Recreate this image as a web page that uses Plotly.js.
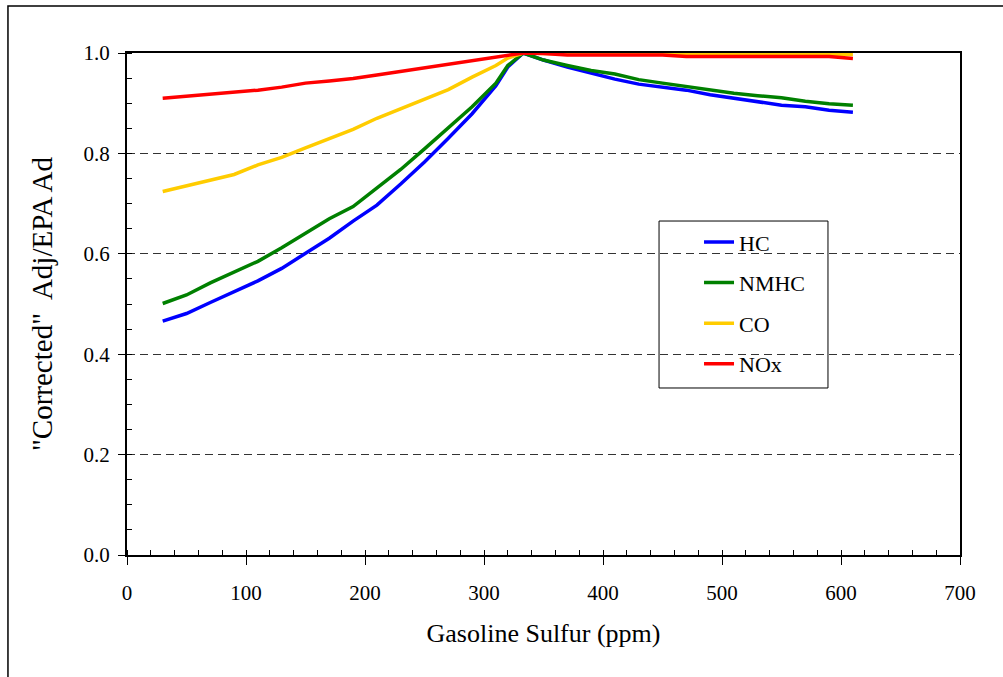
<!DOCTYPE html>
<html>
<head>
<meta charset="utf-8">
<script src="https://cdn.plot.ly/plotly-3.0.1.min.js"></script>
<style>
html,body{margin:0;padding:0;background:#fff;}
#chart{width:1003px;height:677px;}
</style>
</head>
<body>
<div id="chart"></div>
<script>
const sulfur = [30, 50, 70, 90, 110, 130, 150, 170, 190, 210, 230, 250, 270, 290, 310, 320, 333, 350, 370, 390, 410, 430, 450, 470, 490, 510, 530, 550, 570, 590, 610];
const hc   = [0.466, 0.481, 0.503, 0.524, 0.546, 0.571, 0.600, 0.631, 0.665, 0.697, 0.739, 0.783, 0.830, 0.879, 0.935, 0.972, 1.000, 0.986, 0.972, 0.960, 0.948, 0.938, 0.932, 0.926, 0.917, 0.910, 0.903, 0.896, 0.893, 0.886, 0.882];
const nmhc = [0.501, 0.518, 0.542, 0.563, 0.585, 0.612, 0.642, 0.670, 0.694, 0.730, 0.768, 0.809, 0.850, 0.893, 0.940, 0.975, 1.000, 0.986, 0.975, 0.965, 0.958, 0.947, 0.940, 0.933, 0.926, 0.920, 0.915, 0.911, 0.904, 0.899, 0.896];
const co   = [0.724, 0.735, 0.746, 0.758, 0.777, 0.792, 0.811, 0.829, 0.848, 0.870, 0.889, 0.907, 0.927, 0.952, 0.975, 0.990, 1.000, 0.999, 0.999, 0.998, 0.998, 0.998, 0.998, 0.998, 0.998, 0.998, 0.998, 0.997, 0.997, 0.997, 0.997];
const nox  = [0.910, 0.914, 0.918, 0.922, 0.926, 0.932, 0.940, 0.944, 0.949, 0.956, 0.963, 0.970, 0.977, 0.984, 0.992, 0.996, 1.000, 0.999, 0.996, 0.996, 0.996, 0.996, 0.996, 0.993, 0.993, 0.993, 0.993, 0.993, 0.993, 0.993, 0.989];
const seriesNames = ["HC", "NMHC", "CO", "NOx"];
const seriesColors = ["#0000ff", "#008000", "#ffcc00", "#ff0000"];
const seriesValues = [hc, nmhc, co, nox];
const xTitle = "Gasoline Sulfur (ppm)";
const yTitle = "\"Corrected\"  Adj/EPA Ad";

const FONT = "Liberation Serif";

const traces = seriesNames.map((n, i) => ({
  x: sulfur, y: seriesValues[i], name: n, type: "scatter", mode: "lines",
  legendgroup: n,
  line: {color: seriesColors[i], width: 3.5}
}));

const layout = {
  width: 1003, height: 677,
  margin: {l: 127, r: 43, t: 53, b: 122, pad: 0},
  paper_bgcolor: "#fff", plot_bgcolor: "#fff",
  font: {family: FONT, color: "#000", size: 21},
  showlegend: true,
  legend: {
    x: 0.6867, y: 0.665, xanchor: "left", yanchor: "top",
    bgcolor: "rgba(0,0,0,0)", borderwidth: 0,
    font: {family: FONT, size: 22, color: "#000"},
    traceorder: "grouped", tracegroupgap: 9
  },
  xaxis: {
    range: [0, 700], dtick: 100, tick0: 0,
    showline: true, linecolor: "#000", linewidth: 2, mirror: true,
    ticks: "outside", ticklen: 8, tickcolor: "#000", tickwidth: 1,
    ticklabelstandoff: 10,
    minor: {dtick: 20, ticks: "inside", ticklen: 5, tickcolor: "#000", showgrid: false},
    showgrid: false, zeroline: false,
    tickfont: {family: FONT, size: 21},
    title: {text: xTitle, font: {family: FONT, size: 26}, standoff: 20}
  },
  yaxis: {
    range: [0, 1.0], dtick: 0.2, tick0: 0, tickformat: ".1f",
    showline: true, linecolor: "#000", linewidth: 2, mirror: true,
    ticks: "outside", ticklen: 7, tickcolor: "#000", tickwidth: 1,
    ticklabelstandoff: 4,
    minor: {dtick: 0.05, ticks: "inside", ticklen: 5, tickcolor: "#000", showgrid: false},
    showgrid: true, gridcolor: "#333", gridwidth: 1, griddash: "8px,5px",
    zeroline: false,
    tickfont: {family: FONT, size: 21},
    title: {text: yTitle, font: {family: FONT, size: 29}, standoff: 22}
  },
  shapes: [{
    type: "rect", xref: "paper", yref: "paper",
    x0: -0.1429, x1: 1.3, y0: -0.5, y1: 1.0936,
    line: {color: "#000", width: 1.5}, fillcolor: "rgba(0,0,0,0)", layer: "below"
  }, {
    type: "rect", xref: "paper", yref: "paper",
    x0: 0.6387, x1: 0.8415, y0: 0.3327, y1: 0.6653,
    line: {color: "#000", width: 1}, fillcolor: "#fff", layer: "below"
  }]
};

Plotly.newPlot("chart", traces, layout, {staticPlot: true, displayModeBar: false});
</script>
</body>
</html>
